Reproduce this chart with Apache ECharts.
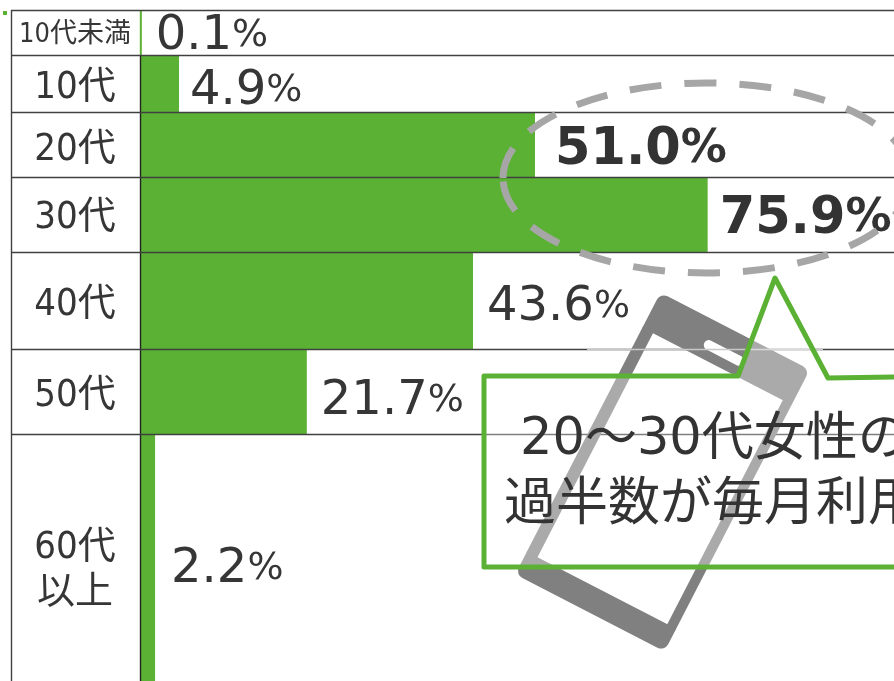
<!DOCTYPE html>
<html>
<head>
<meta charset="utf-8">
<style>
html, body { margin: 0; padding: 0; background: #fff; }
#chart { width: 894px; height: 681px; overflow: hidden; }
</style>
<script src="https://cdn.jsdelivr.net/npm/echarts@6/dist/echarts.min.js"></script>
</head>
<body>
<div id="chart"></div>
<script>
const ageLabels = ['10代未満', '10代', '20代', '30代', '40代', '50代', '60代\n以上']
const shareLabels = ['0.1', '4.9', '51.0', '75.9', '43.6', '21.7', '2.2']
// bar lengths as they are drawn in the picture, which differ a little from the printed shares
const barLengths = [0.1, 5.0, 51.8, 74.5, 43.65, 21.8, 1.85]
// row heights in the picture are unequal, so each row carries its own span on the y axis
const rowSpans = [45, 57, 65, 75, 97, 85, 247]
const boldRows = ['20代', '30代']
const calloutLine1 = '{d|20}{c|～}{d|30}{c|代女性の}'
const calloutLine2 = '過半数が毎月利用'

const FONT = '"DejaVu Sans Condensed", "Noto Sans CJK JP", sans-serif'
const WIDE = '"DejaVu Sans", "Noto Sans CJK JP", sans-serif'
const GREEN = '#5ab133'
const TEXT = '#363636'
const RULE = '#404040'
// label tweaks per row, in pixels
const labelGaps = [14, 11, 20, 12, 14, 14, 16]
const labelLifts = [4, 8, 6, 5, 7, 10, 12]
const ageLifts = [2, 5, 6, 4, 5, 5, 13]
const ageSizes = [27, 38, 38, 38, 38, 38, 38]

let start = 0
const rows = barLengths.map((len, i) => {
  const row = [len, start, rowSpans[i]]
  start += rowSpans[i]
  return row
})

function renderRow(params, api) {
  const i = params.dataIndex
  const len = api.value(0)
  const top = api.coord([0, api.value(1)])
  const bottom = api.coord([len, api.value(1) + api.value(2)])
  const bold = boldRows.includes(ageLabels[i])
  const mid = (top[1] + bottom[1]) / 2
  const x0 = top[0]
  const ruleStyle = { stroke: RULE, lineWidth: 1.4 }
  return {
    type: 'group',
    children: [
      {
        type: 'rect',
        shape: { x: x0, y: top[1], width: bottom[0] - x0, height: bottom[1] - top[1] },
        style: { fill: GREEN }
      },
      {
        type: 'line',
        shape: { x1: 11.5, y1: top[1], x2: 11.5, y2: bottom[1] },
        style: ruleStyle
      },
      {
        type: 'line',
        shape: { x1: x0 - 0.5, y1: top[1], x2: x0 - 0.5, y2: bottom[1] },
        style: { stroke: i === 0 ? GREEN : '#222', lineWidth: 1.4 }
      },
      {
        type: 'line',
        shape: { x1: 11, y1: top[1] + 0.5, x2: 894, y2: top[1] + 0.5 },
        style: ruleStyle
      },
      {
        type: 'text',
        style: {
          x: 75,
          y: mid + ageLifts[i],
          text: ageLabels[i],
          align: 'center',
          verticalAlign: 'middle',
          fill: TEXT,
          font: ageSizes[i] + 'px ' + FONT,
          lineHeight: 45
        }
      },
      {
        type: 'text',
        style: {
          x: bottom[0] + labelGaps[i],
          y: mid + labelLifts[i],
          text: '{v|' + shareLabels[i] + '}{p|%}',
          align: 'left',
          verticalAlign: 'middle',
          rich: {
            v: {
              font: (bold ? 'bold 51px ' : '48px ') + WIDE,
              fill: bold ? '#333' : TEXT
            },
            p: {
              font: (bold ? 'bold 46px ' : '38px ') + WIDE,
              fill: bold ? '#333' : TEXT
            }
          }
        }
      }
    ]
  }
}

const phoneBands = [
  { x: -84, y: -158.5, width: 168, height: 39.5, r: [8, 8, 0, 0] },
  { x: -84, y: 133, width: 168, height: 25.5, r: [0, 0, 8, 8] },
  { x: -84, y: -120, width: 12, height: 254, r: 0 },
  { x: 74, y: -120, width: 10, height: 254, r: 0 }
]

const chart = echarts.init(document.getElementById('chart'), null, { renderer: 'canvas' })
chart.setOption({
  animation: false,
  backgroundColor: '#fff',
  grid: { left: 141, top: 10, width: 753, height: 671 },
  xAxis: { type: 'value', min: 0, max: 99, show: false },
  yAxis: { type: 'value', inverse: true, min: 0, max: 671, show: false },
  series: [
    {
      type: 'custom',
      coordinateSystem: 'cartesian2d',
      clip: false,
      renderItem: renderRow,
      data: rows
    }
  ],
  graphic: [
    { type: 'rect', z: 10, shape: { x: 3, y: 11, width: 4, height: 4 }, style: { fill: GREEN } },
    {
      type: 'ellipse',
      z: 10,
      shape: { cx: 707, cy: 178, rx: 204, ry: 95 },
      style: { fill: 'none', stroke: '#a6a6a6', lineWidth: 7, lineDash: [32, 23] }
    },
    {
      type: 'group',
      z: 11,
      x: 662.5,
      y: 472,
      rotation: -0.476,
      children: phoneBands
        .map(b => ({ type: 'rect', z: 11, shape: b, style: { fill: '#808080' } }))
        .concat([
          { type: 'rect', z: 12, shape: { x: -22, y: -139, width: 44, height: 10, r: 5 }, style: { fill: '#fff' } }
        ])
    },
    {
      type: 'line',
      z: 13,
      shape: { x1: 587, y1: 349.5, x2: 823, y2: 349.5 },
      style: { stroke: '#c8c8c8', lineWidth: 1.5 }
    },
    {
      type: 'polygon',
      z: 14,
      shape: {
        points: [[484, 376], [738, 376], [775, 278], [828, 378], [900, 377], [900, 567], [484, 567]]
      },
      style: { fill: 'rgba(255,255,255,0.33)', stroke: GREEN, lineWidth: 5, lineJoin: 'round' }
    },
    {
      type: 'text',
      z: 15,
      style: {
        x: 520,
        y: 441,
        text: calloutLine1,
        verticalAlign: 'middle',
        rich: {
          d: { font: '51px ' + WIDE, fill: '#333' },
          c: { font: '52px ' + WIDE, fill: '#333' }
        }
      }
    },
    {
      type: 'text',
      z: 15,
      style: { x: 504, y: 506, text: calloutLine2, verticalAlign: 'middle', fill: '#333', font: '52px ' + FONT }
    }
  ]
})
</script>
</body>
</html>
